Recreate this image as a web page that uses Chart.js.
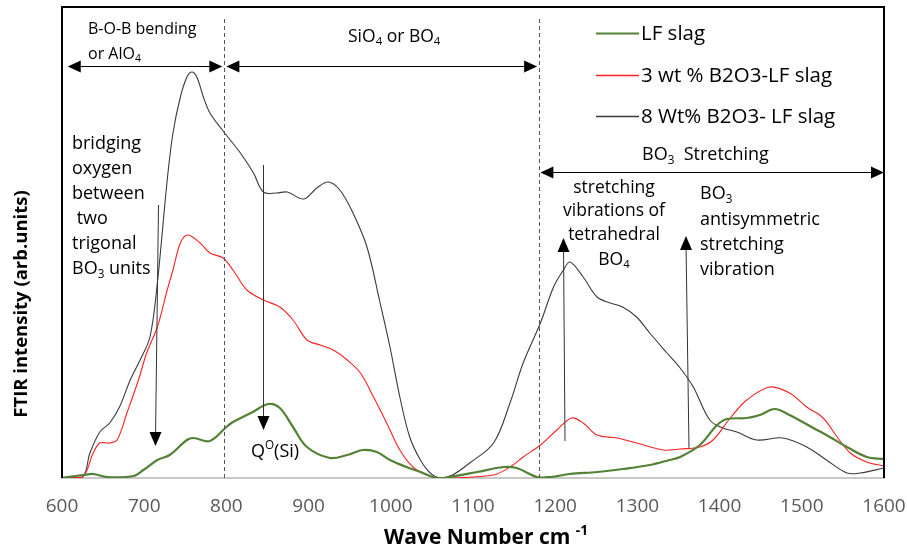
<!DOCTYPE html>
<html>
<head>
<meta charset="utf-8">
<script src="https://cdn.jsdelivr.net/npm/chart.js@4.4.1/dist/chart.umd.min.js"></script>
<style>
html,body{margin:0;padding:0;background:#fff;}
#wrap{width:907px;height:552px;position:relative;}
</style>
</head>
<body>
<div id="wrap"><canvas id="c"></canvas></div>
<script>
// ---- Data (wave number cm-1, FTIR intensity arb. units) ----
const lfWave = [600,626,638,655,687,699,716,731,752,760,780,800,808,832,851,865,881,898,926,947,966,983,999,1019,1036,1051,1063,1072,1105,1137,1153,1178,1194,1218,1251,1282,1315,1339,1352,1376,1397,1409,1433,1449,1467,1485,1514,1534,1555,1579,1600];
const lfInt  = [0,3,4,1,2,8,18,23,38,40,37,51,56,66,74,70,51,31,20,23,28,26,18,11,6,1,0,1,6,11,10,1,1,4,6,9,13,18,21,33,53,59,60,63,69,63,50,41,31,21,19];

const b3Wave = [600,625,638,646,658,667,679,693,703,716,728,735,744,753,768,780,796,808,825,845,865,881,898,914,930,947,963,979,995,1011,1027,1044,1060,1072,1125,1145,1161,1182,1202,1220,1234,1251,1275,1299,1332,1352,1376,1392,1413,1433,1461,1485,1506,1526,1543,1559,1579,1600];
const b3Int  = [0,1,25,35,35,38,65,98,125,151,188,208,235,243,235,225,220,208,188,178,171,158,138,133,128,118,105,81,55,28,11,3,0,0,3,11,21,33,48,60,55,43,40,35,28,29,31,38,60,78,91,85,71,60,41,25,16,12];

const b8Wave = [600,625,634,646,658,670,683,695,707,716,728,735,744,752,758,764,772,780,795,817,833,845,861,874,894,910,924,938,954,971,987,999,1011,1023,1036,1048,1060,1075,1096,1125,1145,1161,1182,1198,1210,1218,1234,1251,1267,1282,1299,1315,1336,1352,1368,1388,1404,1421,1445,1477,1506,1530,1555,1571,1600];
const b8Int  = [0,1,25,46,55,71,98,118,141,195,298,345,381,401,406,401,381,365,348,325,305,286,285,286,279,290,296,288,265,231,175,131,81,41,18,5,0,3,15,35,75,115,155,191,208,216,201,181,175,171,161,145,125,110,91,58,50,46,38,40,31,18,5,5,10];

const seriesNames = ['LF slag','3 wt % B2O3-LF slag','8 Wt% B2O3- LF slag'];
const seriesColors = ['#538135','#ff2020','#3a3a3a'];
const xTicks = [600,700,800,900,1000,1100,1200,1300,1400,1500,1600];

function pts(xs, ys){ return xs.map((x,i)=>({x:x,y:ys[i]})); }

const FONT = '"Open Sans", "Liberation Sans", sans-serif';

function parseRich(str){
  const segs=[]; let i=0, cur='';
  while(i<str.length){
    const ch=str[i];
    if((ch==='_'||ch==='^') && str[i+1]==='{'){
      if(cur){segs.push({t:cur,m:''});cur='';}
      const end=str.indexOf('}',i);
      segs.push({t:str.slice(i+2,end),m:ch==='_'?'sub':'sup'});
      i=end+1;
    } else { cur+=ch; i++; }
  }
  if(cur) segs.push({t:cur,m:''});
  return segs;
}
function rich(ctx,str,x,y,size,align,weight,color){
  const segs=parseRich(str);
  const w=weight||'normal';
  let total=0;
  segs.forEach(s=>{
    const fs = s.m? size*0.65 : size;
    ctx.font = w+' '+fs+'px '+FONT;
    s.w = ctx.measureText(s.t).width; s.fs=fs; total+=s.w;
  });
  let cx = align==='center'? x-total/2 : (align==='right'? x-total : x);
  ctx.fillStyle=color||'#000';
  ctx.textBaseline='middle';
  ctx.textAlign='left';
  segs.forEach(s=>{
    ctx.font = w+' '+s.fs+'px '+FONT;
    let dy = s.m==='sub'? size*0.3 : (s.m==='sup'? -size*0.35 : 0);
    ctx.fillText(s.t,cx,y+dy);
    cx+=s.w;
  });
}

function arrowHead(ctx,x,y,dir,len,half){
  ctx.beginPath();
  if(dir==='left'){ctx.moveTo(x,y);ctx.lineTo(x+len,y-half);ctx.lineTo(x+len,y+half);}
  if(dir==='right'){ctx.moveTo(x,y);ctx.lineTo(x-len,y-half);ctx.lineTo(x-len,y+half);}
  if(dir==='up'){ctx.moveTo(x,y);ctx.lineTo(x-half,y+len);ctx.lineTo(x+half,y+len);}
  if(dir==='down'){ctx.moveTo(x,y);ctx.lineTo(x-half,y-len);ctx.lineTo(x+half,y-len);}
  ctx.closePath(); ctx.fill();
}

const annot = {
  id:'annot',
  afterDraw(chart){
    const ctx=chart.ctx, a=chart.chartArea, xs=chart.scales.x;
    ctx.save();
    // frame left/top/right
    ctx.strokeStyle='#000'; ctx.lineWidth=2;
    ctx.beginPath();
    ctx.moveTo(a.left,a.bottom); ctx.lineTo(a.left,a.top); ctx.lineTo(a.right,a.top); ctx.lineTo(a.right,a.bottom);
    ctx.stroke();
    // dashed separators
    ctx.strokeStyle='#555'; ctx.lineWidth=1; ctx.setLineDash([4,3]);
    [797,1180].forEach(v=>{
      const px=Math.round(xs.getPixelForValue(v))+0.5;
      ctx.beginPath(); ctx.moveTo(px,a.top+12); ctx.lineTo(px,a.bottom); ctx.stroke();
    });
    ctx.setLineDash([]);
    // horizontal double arrows
    ctx.strokeStyle='#000'; ctx.fillStyle='#000'; ctx.lineWidth=1;
    function hArrow(x1,x2,y){
      ctx.beginPath(); ctx.moveTo(x1+5,y+0.5); ctx.lineTo(x2-5,y+0.5); ctx.stroke();
      arrowHead(ctx,x1,y+0.5,'left',13,6); arrowHead(ctx,x2,y+0.5,'right',13,6);
    }
    const p=v=>xs.getPixelForValue(v);
    hArrow(p(607),p(795),66);
    hArrow(p(800),p(1178),66);
    hArrow(p(1182),p(1600),172);
    // vertical arrows
    function vArrow(x1,y1,x2,y2,dir){
      ctx.beginPath(); ctx.moveTo(x1,y1); ctx.lineTo(x2,dir==='down'?y2-8:y2+8); ctx.stroke();
      arrowHead(ctx,x2,y2,dir,14,6);
    }
    ctx.strokeStyle='#333';
    vArrow(158.5,205,155.5,446,'down');
    vArrow(263.5,165,263.5,430,'down');
    vArrow(565,441,563.5,238,'up');
    vArrow(689,448,686,236,'up');
    // texts
    const S=18;
    rich(ctx,'B-O-B bending',88,29,16);
    rich(ctx,'or AlO_{4}',88,54,16);
    rich(ctx,'SiO_{4} or BO_{4}',348,37,17.5);
    const left=['bridging','oxygen','between',' two','trigonal','BO_{3} units'];
    left.forEach((t,i)=>rich(ctx,t,72,144+i*25,S));
    rich(ctx,'BO_{3}  Stretching',642,155,S);
    const mid=['stretching','vibrations of','tetrahedral','BO_{4}'];
    [188,211,235,260].forEach((y,i)=>rich(ctx,mid[i],614,y,17.5,'center'));
    const right=['BO_{3}','antisymmetric','stretching','vibration'];
    [194,220,245,270].forEach((y,i)=>rich(ctx,right[i],700,y,S));
    rich(ctx,'Q^{O}(Si)',251,452,S);
    // legend
    const ly=[33,75,116];
    seriesNames.forEach((n,i)=>{
      ctx.strokeStyle=seriesColors[i]; ctx.lineWidth=i===0?2:1.3;
      ctx.beginPath(); ctx.moveTo(596,ly[i]+0.5); ctx.lineTo(639,ly[i]+0.5); ctx.stroke();
      rich(ctx,n,641,ly[i]+1,20.5);
    });
    // axis titles
    ctx.save();
    ctx.translate(22,304); ctx.rotate(-Math.PI/2);
    rich(ctx,'FTIR intensity (arb.units)',0,0,18.5,'center','bold');
    ctx.restore();
    rich(ctx,'Wave Number cm ^{-1}',486,538,21,'center','bold');
    ctx.restore();
  }
};

new Chart(document.getElementById('c'),{
  type:'line',
  data:{datasets:[
    {label:seriesNames[0],data:pts(lfWave,lfInt),borderColor:seriesColors[0],borderWidth:2.2,pointRadius:0,tension:0.35,fill:false},
    {label:seriesNames[1],data:pts(b3Wave,b3Int),borderColor:seriesColors[1],borderWidth:1.1,pointRadius:0,tension:0.35,fill:false},
    {label:seriesNames[2],data:pts(b8Wave,b8Int),borderColor:seriesColors[2],borderWidth:1.1,pointRadius:0,tension:0.35,fill:false}
  ]},
  options:{
    responsive:true, maintainAspectRatio:false, animation:false,
    layout:{padding:{left:62,top:7,right:23,bottom:0}},
    plugins:{legend:{display:false},tooltip:{enabled:false}},
    scales:{
      x:{type:'linear',min:600,max:1600,
        afterBuildTicks:(s)=>{s.ticks=xTicks.map(v=>({value:v}));},
        afterFit:(s)=>{s.height=74; s.paddingRight=0; s.paddingLeft=0;},
        grid:{display:false,drawTicks:false},
        border:{display:true,color:'#c8c8c8',width:2},
        ticks:{color:'#595959',font:{family:FONT,size:19},padding:17,maxRotation:0,autoSkip:false,
          callback:(v)=>String(v)}
      },
      y:{display:false,min:0,max:471}
    }
  },
  plugins:[annot]
});
</script>
</body>
</html>
